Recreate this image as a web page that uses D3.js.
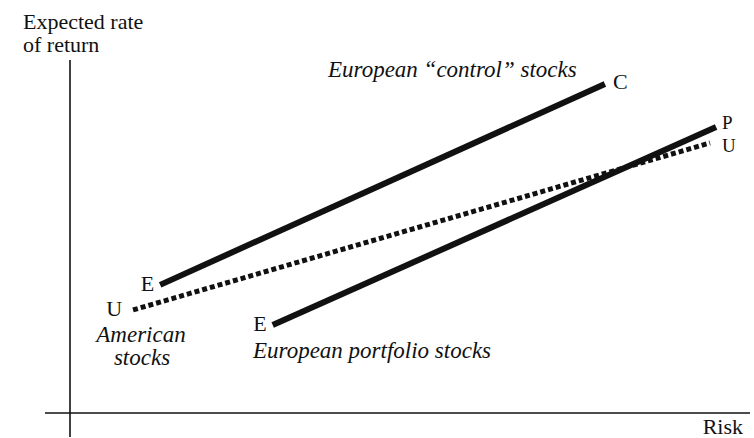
<!DOCTYPE html>
<html>
<head>
<meta charset="utf-8">
<script src="https://cdn.jsdelivr.net/npm/d3@7"></script>
<style>
  body { margin: 0; background: #fff; }
  text { font-family: "Liberation Serif", "DejaVu Serif", serif; fill: #111; }
</style>
</head>
<body>
<svg id="chart" width="754" height="438"></svg>
<script>
// lines: [risk, return] at start and end (abstract units)
var lineNames = ['control', 'portfolio', 'american'];
var lineStart = [[1.30, 3.63], [2.96, 2.49], [0.90, 2.92]];
var lineEnd   = [[7.86, 9.32], [9.50, 8.10], [9.41, 7.65]];
var lineDashed = [false, false, true];
var startLabels = ['E', 'E', 'U'];
var endLabels = ['C', 'P', 'U'];

var svg = d3.select('#chart');
var x = d3.scaleLinear().domain([0, 10]).range([72, 750]);
var y = d3.scaleLinear().domain([0, 10]).range([413, 60]);

// axes, drawn as plain lines (no ticks on this sketch)
svg.append('line')
	.attr('x1', x(0) - 2).attr('x2', x(0) - 2)
	.attr('y1', y(10)).attr('y2', 437)
	.attr('stroke', '#111').attr('stroke-width', 1.6)
svg.append('line')
	.attr('x1', 45).attr('x2', x(10))
	.attr('y1', y(0)).attr('y2', y(0))
	.attr('stroke', '#111').attr('stroke-width', 1.6)

var data = lineNames.map(function(n, i){
	return {name: n, a: lineStart[i], b: lineEnd[i], dashed: lineDashed[i], s: startLabels[i], e: endLabels[i]};
})

svg.selectAll('line.series').data(data).enter()
	.append('line')
	.attr('class', 'series')
	.attr('x1', function(d){return x(d.a[0])})
	.attr('y1', function(d){return y(d.a[1])})
	.attr('x2', function(d){return x(d.b[0])})
	.attr('y2', function(d){return y(d.b[1])})
	.attr('stroke', '#111')
	.attr('stroke-width', function(d){return d.dashed ? 5 : 6})
	.attr('stroke-dasharray', function(d){return d.dashed ? '5,3' : null})

// end point letters
svg.selectAll('text.start').data(data).enter()
	.append('text')
	.attr('class', 'start')
	.attr('x', function(d){return x(d.a[0]) - (d.s == 'U' ? 11 : 6)})
	.attr('y', function(d){return y(d.a[1]) + 6})
	.attr('text-anchor', 'end')
	.style('font-size', '22px')
	.text(function(d){return d.s})

// P and U sit stacked at the right, keep them a bit smaller so they don't collide
svg.selectAll('text.end').data(data).enter()
	.append('text')
	.attr('class', 'end')
	.attr('x', function(d){return x(d.b[0]) + (d.e == 'C' ? 8 : d.e == 'P' ? 6 : 12)})
	.attr('y', function(d){return y(d.b[1]) + (d.e == 'P' ? 2 : d.e == 'U' ? 9 : 5)})
	.style('font-size', function(d){return d.e == 'C' ? '22px' : '19px'})
	.text(function(d){return d.e})

// axis titles
svg.append('text').attr('x', 23).attr('y', 29).style('font-size', '22px').text('Expected rate')
svg.append('text').attr('x', 23).attr('y', 52).style('font-size', '22px').text('of return')
svg.append('text').attr('x', 743).attr('y', 434).attr('text-anchor', 'end').style('font-size', '22px').text('Risk')

// series captions
svg.append('text').attr('x', 328).attr('y', 77).style('font-size', '23px').style('font-style', 'italic')
	.text('European \u201ccontrol\u201d stocks')
svg.append('text').attr('x', 253).attr('y', 358).style('font-size', '23px').style('font-style', 'italic')
	.text('European portfolio stocks')
svg.append('text').attr('x', 141).attr('y', 342).attr('text-anchor', 'middle').style('font-size', '23px').style('font-style', 'italic')
	.text('American')
svg.append('text').attr('x', 142).attr('y', 365).attr('text-anchor', 'middle').style('font-size', '23px').style('font-style', 'italic')
	.text('stocks')
</script>
</body>
</html>
